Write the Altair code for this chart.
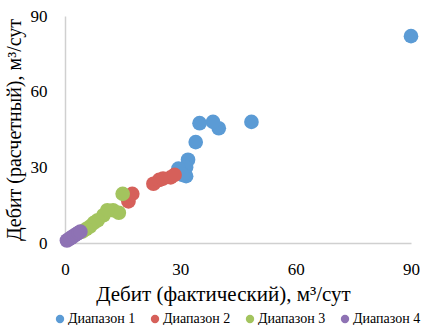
import altair as alt
import pandas as pd

# Фактический и расчетный дебит по диапазонам
range_names = ["Диапазон 1", "Диапазон 2", "Диапазон 3", "Диапазон 4"]
range_colors = ["#5B9BD5", "#D6605A", "#A3C45E", "#8E72B4"]

r1_fact = [90, 48.5, 40, 38.5, 35, 34, 32, 31.5, 31.5, 29.5, 30.5]
r1_calc = [82, 48, 45.5, 48, 47.5, 40, 33, 30, 26.5, 29.5, 27]

r2_fact = [16.5, 17.5, 23, 24.5, 25.5, 27.5, 28.5]
r2_calc = [16.5, 19.5, 23.5, 25, 25.5, 26, 27]

r3_fact = [15, 12.5, 14, 11, 10, 8.5, 7.5, 6.5, 5.5, 4.5]
r3_calc = [19.5, 13, 12, 13, 11, 9, 8, 6.5, 5.5, 4.5]

r4_fact = [0.5, 1, 1.5, 2, 2.5, 3, 3.5, 4]
r4_calc = [1, 1.5, 2, 2.5, 3, 3.5, 4, 4.5]

axis_ticks = [0, 30, 60, 90]

rows = []
for name, xs, ys in zip(range_names,
                        [r1_fact, r2_fact, r3_fact, r4_fact],
                        [r1_calc, r2_calc, r3_calc, r4_calc]):
    for xv, yv in zip(xs, ys):
        rows.append({"range": name, "fact": xv, "calc": yv})
df = pd.DataFrame(rows)

serif = "Liberation Serif"

chart = alt.Chart(df).mark_circle(size=215, opacity=1).encode(
    x=alt.X("fact:Q",
            scale=alt.Scale(domain=[0, 90], nice=False),
            axis=alt.Axis(values=axis_ticks, grid=False, ticks=False,
                          labelFlush=False, labelOverlap=False,
                          domainColor="#D0D0D0", domainWidth=1.5,
                          labelFont=serif, labelFontSize=17, labelColor="#000",
                          labelFontWeight=400, labelPadding=18,
                          title="Дебит (фактический), м³/сут",
                          titleFont=serif, titleFontSize=21, titleFontWeight=400,
                          titleColor="#000", titlePadding=6, titleX=158)),
    y=alt.Y("calc:Q",
            scale=alt.Scale(domain=[0, 90], nice=False),
            axis=alt.Axis(values=axis_ticks, grid=False, ticks=False,
                          labelFlush=False, labelOverlap=False,
                          domainColor="#D0D0D0", domainWidth=1.5,
                          labelFont=serif, labelFontSize=17, labelColor="#000",
                          labelFontWeight=400, labelPadding=18,
                          title="Дебит (расчетный), м³/сут",
                          titleFont=serif, titleFontSize=20, titleFontWeight=400,
                          titleColor="#000", titlePadding=6)),
    color=alt.Color("range:N",
                    scale=alt.Scale(domain=range_names, range=range_colors),
                    legend=alt.Legend(title=None, orient="none", direction="horizontal",
                                      legendX=-12, legendY=296,
                                      symbolType="circle", symbolSize=70,
                                      symbolStrokeWidth=0, labelLimit=120,
                                      labelOffset=1, columnPadding=12)),
).properties(
    width=346,
    height=227,
    autosize=alt.AutoSizeParams(type="none"),
    padding={"left": 65, "top": 16, "right": 12, "bottom": 82},
).configure_view(
    stroke=None
).configure_legend(
    labelFont=serif, labelFontSize=14, labelFontWeight=400, labelColor="#000"
)

chart.save("out.html", embed_options={"renderer": "svg", "actions": False})
